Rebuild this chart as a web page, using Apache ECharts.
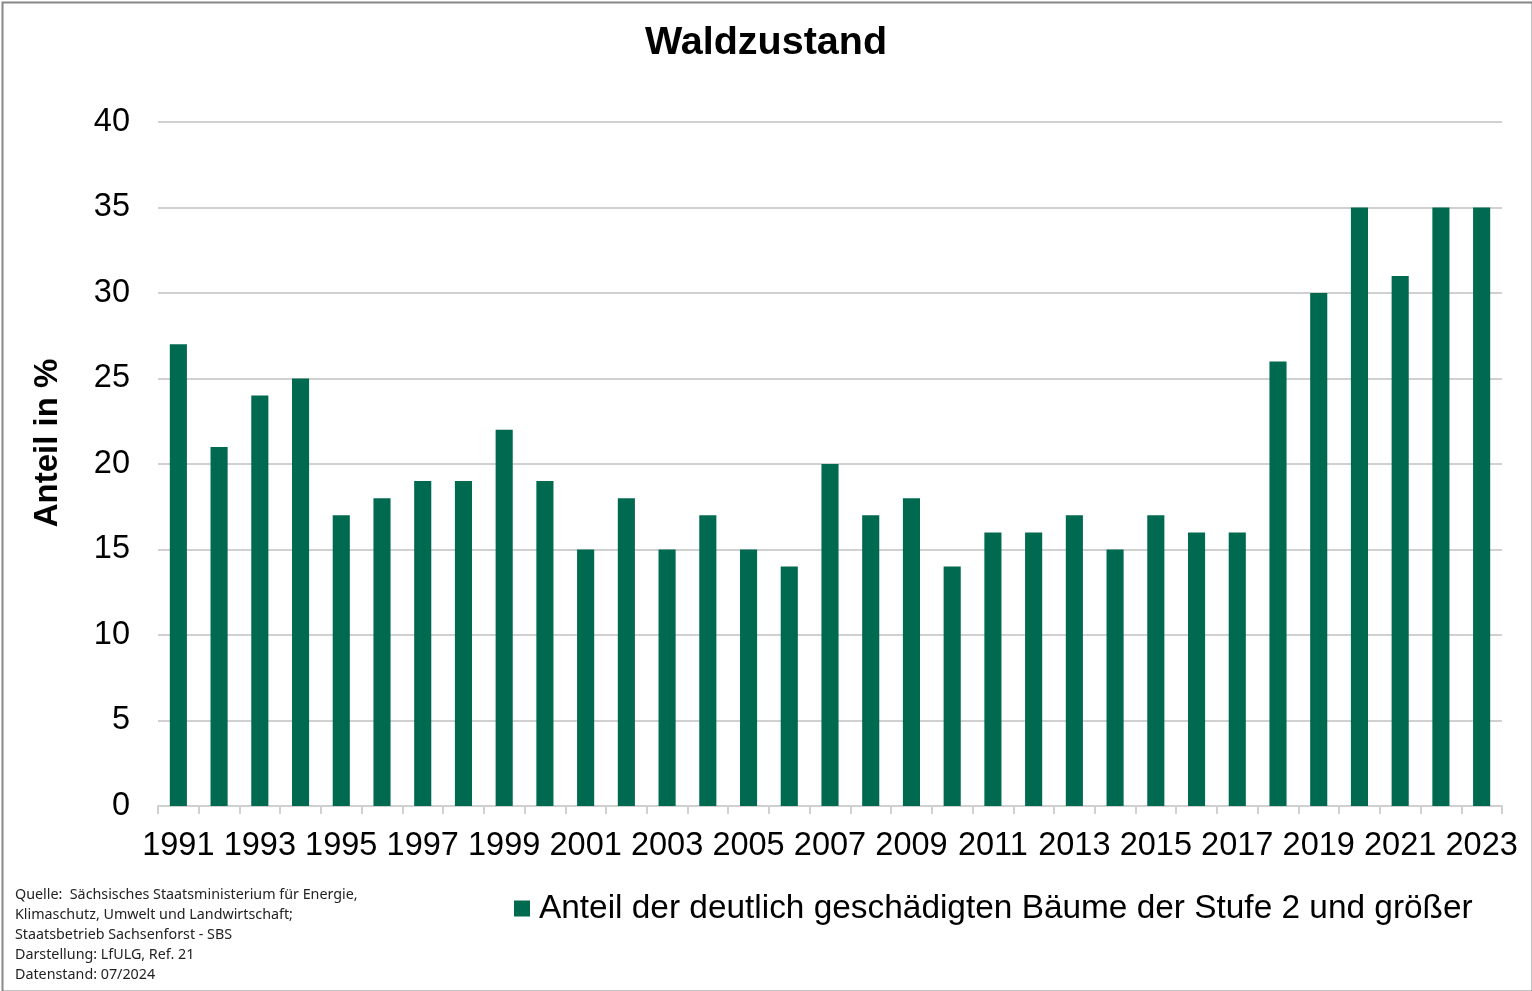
<!DOCTYPE html>
<html>
<head>
<meta charset="utf-8">
<script src="https://cdn.jsdelivr.net/npm/echarts@6/dist/echarts.min.js"></script>
<style>
    html, body { margin: 0; padding: 0; background: #fff; }
    #chart { width: 1532px; height: 991px; }
</style>
</head>
<body>
<div id="chart"></div>
<script>
    // Jahre und Anteil der deutlich geschädigten Bäume (%)
    var years = ['1991','1992','1993','1994','1995','1996','1997','1998','1999','2000',
        '2001','2002','2003','2004','2005','2006','2007','2008','2009','2010',
        '2011','2012','2013','2014','2015','2016','2017','2018','2019','2020',
        '2021','2022','2023'];
    var anteil = [27,21,24,25,17,18,19,19,22,19,
        15,18,15,17,15,14,20,17,18,14,
        16,16,17,15,17,16,16,26,30,35,
        31,35,35];
    var yTicks = [0, 5, 40];  // min, interval, max
    var quelle = [
        'Quelle:  Sächsisches Staatsministerium für Energie,',
        'Klimaschutz, Umwelt und Landwirtschaft;',
        'Staatsbetrieb Sachsenforst - SBS',
        'Darstellung: LfULG, Ref. 21',
        'Datenstand: 07/2024'
    ];

    var chart = echarts.init(document.getElementById('chart'));

    var quelleText = [];
    for (var i = 0; i < quelle.length; i++) {
        quelleText.push({
            type: 'text',
            left: 15,
            top: 888 + i * 20,
            style: {text: quelle[i], fill: '#222', font: '14.3px "Noto Sans", sans-serif'}
        });
    }

    var option = {
        animation: false,
        textStyle: {fontFamily: '"Liberation Sans", Arial, sans-serif', color: '#000'},
        title: {
            text: 'Waldzustand',
            left: 'center',
            top: 18,
            textStyle: {fontSize: 39.5, fontWeight: 'bold', color: '#000'}
        },
        legend: {
            data: ['Anteil der deutlich geschädigten Bäume der Stufe 2 und größer'],
            left: 509,
            top: 887,
            itemWidth: 16,
            itemHeight: 16,
            itemGap: 10,
            icon: 'rect',
            textStyle: {fontSize: 33.4, color: '#000', padding: [0, 0, 0, 4]}
        },
        grid: {left: 158, right: 30, top: 122, bottom: 185},
        xAxis: {
            type: 'category',
            data: years,
            axisLine: {lineStyle: {color: '#d0d0d0', width: 2}},
            axisTick: {show: true, interval: 0, length: 8, lineStyle: {color: '#d0d0d0', width: 2}},
            axisLabel: {interval: 1, fontSize: 32.5, color: '#000', margin: 24}
        },
        yAxis: {
            type: 'value',
            min: yTicks[0],
            interval: yTicks[1],
            max: yTicks[2],
            axisLine: {show: false},
            axisTick: {show: false},
            axisLabel: {fontSize: 32.5, color: '#000', margin: 28},
            splitLine: {lineStyle: {color: '#d0d0d0', width: 2}}
        },
        series: [
            {
                name: 'Anteil der deutlich geschädigten Bäume der Stufe 2 und größer',
                type: 'bar',
                barWidth: '42%',
                itemStyle: {color: '#006A50'},
                data: anteil
            }
        ],
        graphic: [
            {
                type: 'rect',
                left: 0, top: 0,
                shape: {x: 1, y: 1, width: 1530, height: 989},
                style: {fill: 'none', stroke: '#878787', lineWidth: 2},
                silent: true
            },
            {
                // Achsentitel
                type: 'text',
                x: 48, y: 443,
                rotation: Math.PI / 2,
                style: {
                    text: 'Anteil in %',
                    fill: '#000',
                    font: 'bold 33px "Liberation Sans", Arial, sans-serif',
                    align: 'center',
                    verticalAlign: 'middle'
                }
            }
        ].concat(quelleText)
    };

    chart.setOption(option);
</script>
</body>
</html>
